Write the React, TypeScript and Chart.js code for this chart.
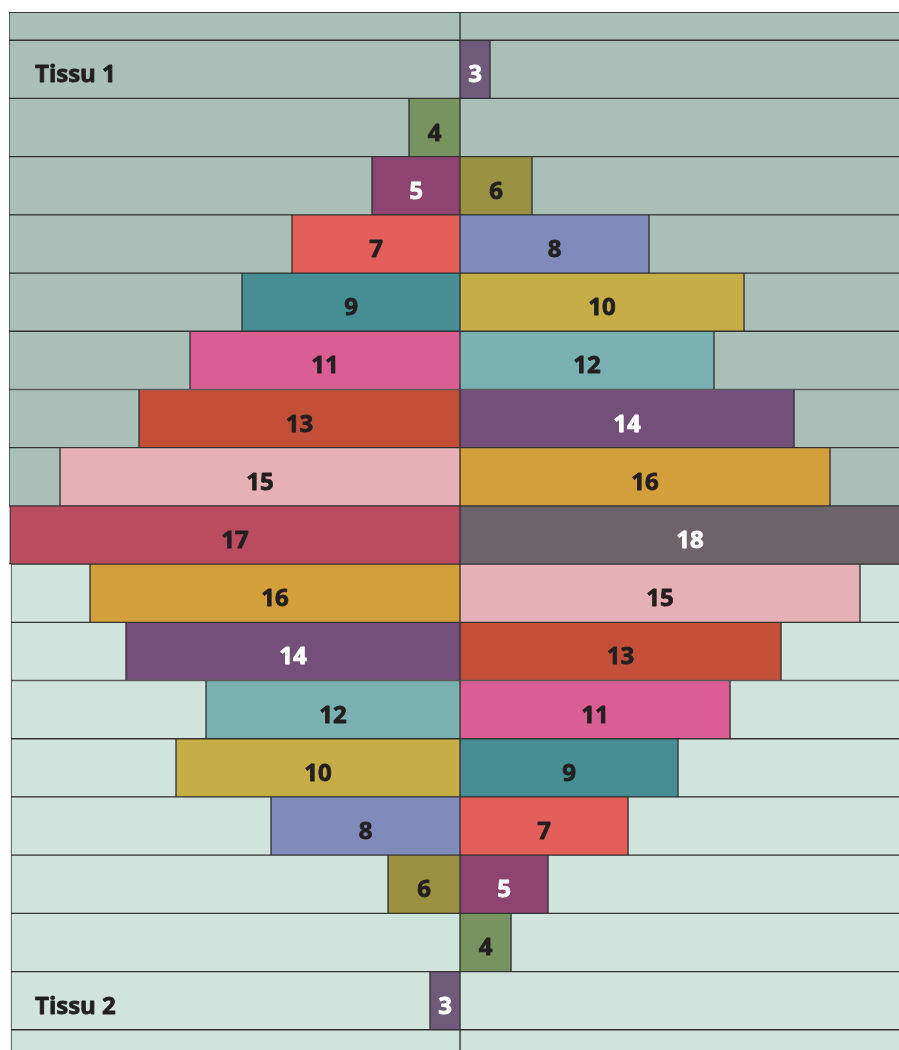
import React, { useEffect, useRef } from "react";
import { Chart, registerables } from "chart.js";

Chart.register(...registerables);

// Rows of the quilt block, top to bottom (first and last rows are cut by the frame)
const rowLabels = [
  "R0", "R1", "R2", "R3", "R4", "R5", "R6", "R7", "R8", "R9",
  "R10", "R11", "R12", "R13", "R14", "R15", "R16", "R17", "R18",
];
// Piece number sitting left / right of the centre seam in each row
const leftPieces: (number | null)[] = [
  null, null, 4, 5, 7, 9, 11, 13, 15, 17, 16, 14, 12, 10, 8, 6, null, 3, null,
];
const rightPieces: (number | null)[] = [
  null, 3, null, 6, 8, 10, 12, 14, 16, 18, 15, 13, 11, 9, 7, 5, 4, null, null,
];
// Background fabric of each row (index into fabricNames)
const rowFabric = [0, 0, 0, 0, 0, 0, 0, 0, 0, 0, 1, 1, 1, 1, 1, 1, 1, 1, 1];
const rowNotes = [
  "", "Tissu 1", "", "", "", "", "", "", "", "",
  "", "", "", "", "", "", "", "Tissu 2", "",
];

// Pieces and their widths (measured from the centre seam)
const pieceNumbers = [3, 4, 5, 6, 7, 8, 9, 10, 11, 12, 13, 14, 15, 16, 17, 18];
const pieceWidths = [30, 51, 88, 72, 168, 189, 218, 284, 270, 254, 321, 334, 400, 370, 450, 460];

// Background fabrics
const fabricNames = ["Tissu 1", "Tissu 2"];
const fabricLeftEdge = [-451, -449];
const fabricRightEdge = [445, 445];

// Styles
const pieceColors = [
  "#6f5a7c", "#77935f", "#8d4470", "#9b9142", "#e55f5a", "#7f8bbb", "#468e93", "#c6ae47",
  "#db5e93", "#79b1b2", "#c44f38", "#744f79", "#e5b0b6", "#d39f3a", "#b94c5e", "#6c6469",
];
const pieceTextColors = [
  "#ffffff", "#231f20", "#ffffff", "#231f20", "#231f20", "#231f20", "#231f20", "#231f20",
  "#231f20", "#231f20", "#231f20", "#ffffff", "#231f20", "#231f20", "#231f20", "#ffffff",
];
const fabricColors = ["#aabfb8", "#d0e3dd"];
const seamColor = "#333333";

const widthOf = (n: number | null) => (n == null ? 0 : pieceWidths[pieceNumbers.indexOf(n)]);
const colorOf = (n: number | null) => (n == null ? "transparent" : pieceColors[pieceNumbers.indexOf(n)]);

const drawBold = (ctx: CanvasRenderingContext2D, text: string, x: number, y: number) => {
  ctx.fillText(text, x, y);
  ctx.strokeText(text, x, y);
};

const labelPlugin = {
  id: "pieceLabels",
  afterDatasetsDraw(chart: any) {
    const ctx = chart.ctx as CanvasRenderingContext2D;
    ctx.save();
    ctx.font = "bold 24px 'Open Sans', sans-serif";
    ctx.textBaseline = "alphabetic";
    ctx.lineWidth = 0.8;
    ctx.lineJoin = "round";
    [1, 2].forEach((di) => {
      const pieces = di === 1 ? leftPieces : rightPieces;
      const meta = chart.getDatasetMeta(di);
      meta.data.forEach((el: any, i: number) => {
        const n = pieces[i];
        if (n == null) return;
        const { x, base, y } = el.getProps(["x", "base", "y"], true);
        const c = pieceTextColors[pieceNumbers.indexOf(n)];
        ctx.fillStyle = c;
        ctx.strokeStyle = c;
        ctx.textAlign = "center";
        drawBold(ctx, String(n), (x + base) / 2, y + 13);
      });
    });
    const meta0 = chart.getDatasetMeta(0);
    meta0.data.forEach((el: any, i: number) => {
      if (!rowNotes[i]) return;
      const { y } = el.getProps(["y"], true);
      ctx.fillStyle = "#231f20";
      ctx.strokeStyle = "#231f20";
      ctx.textAlign = "left";
      drawBold(ctx, rowNotes[i], chart.chartArea.left + 26, y + 13);
    });
    ctx.restore();
  },
};

export default function App() {
  const ref = useRef<HTMLCanvasElement | null>(null);

  useEffect(() => {
    if (!ref.current) return;
    const bgLeft = rowLabels.map((_, i) => {
      const L = fabricLeftEdge[rowFabric[i]];
      const w = widthOf(leftPieces[i]);
      return -w > L ? [L, -w] : null;
    });
    const pieceLeft = rowLabels.map((_, i) =>
      leftPieces[i] != null ? [-widthOf(leftPieces[i]), 0] : null
    );
    const pieceRight = rowLabels.map((_, i) =>
      rightPieces[i] != null ? [0, widthOf(rightPieces[i])] : null
    );
    const bgRight = rowLabels.map((_, i) => {
      const R = fabricRightEdge[rowFabric[i]];
      const w = widthOf(rightPieces[i]);
      return w < R ? [w, R] : null;
    });
    const bgColors = rowLabels.map((_, i) => fabricColors[rowFabric[i]]);

    const chart = new Chart(ref.current, {
      type: "bar",
      data: {
        labels: rowLabels,
        datasets: [
          { label: fabricNames[0] + " / " + fabricNames[1] + " (gauche)", data: bgLeft as any, backgroundColor: bgColors },
          { label: "Pièces gauche", data: pieceLeft as any, backgroundColor: leftPieces.map(colorOf) },
          { label: "Pièces droite", data: pieceRight as any, backgroundColor: rightPieces.map(colorOf) },
          { label: fabricNames[0] + " / " + fabricNames[1] + " (droite)", data: bgRight as any, backgroundColor: bgColors },
        ],
      },
      options: {
        indexAxis: "y",
        responsive: false,
        animation: false,
        layout: { padding: 0 },
        datasets: {
          bar: {
            grouped: false,
            barPercentage: 1,
            categoryPercentage: 1,
            borderWidth: 1,
            borderColor: seamColor,
            borderSkipped: false,
          },
        } as any,
        scales: {
          x: { type: "linear", min: -451, max: 439, display: false },
          y: { type: "category", display: false, offset: true },
        },
        plugins: { legend: { display: false }, tooltip: { enabled: false } },
      },
      plugins: [labelPlugin],
    });
    return () => chart.destroy();
  }, []);

  return (
    <div
      style={{
        position: "fixed",
        top: 12,
        left: 9,
        width: 890,
        height: 1038,
        overflow: "hidden",
        borderTop: "1px solid " + seamColor,
        boxSizing: "border-box",
      }}
    >
      <canvas
        ref={ref}
        width={890}
        height={1106}
        style={{ display: "block", width: 890, height: 1106, marginTop: -31 }}
      />
    </div>
  );
}
